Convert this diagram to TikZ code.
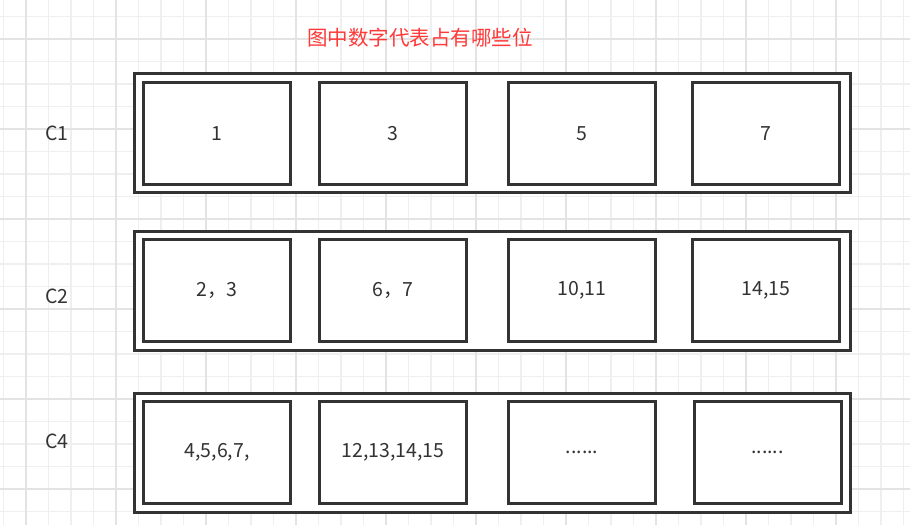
\documentclass[tikz,border=0pt]{standalone}
\usepackage{fontspec}
\setmainfont{Noto Sans CJK SC}
\usetikzlibrary{positioning}
\definecolor{Ink}{HTML}{333333}
\definecolor{Alert}{HTML}{FF3838}
\definecolor{GridLine}{HTML}{EFEFEF}
\definecolor{GridBold}{HTML}{E3E3E3}

\begin{document}
\begin{tikzpicture}[x=1pt,y=-1pt,
    cell/.style={draw=Ink,line width=3pt,fill=white,text=Ink,minimum width=147pt,minimum height=102pt,inner sep=0pt,font=\fontsize{19.5}{22}\selectfont},
    rowframe/.style={draw=Ink,line width=3pt,fill=white,minimum width=716pt,minimum height=119pt,inner sep=0pt},
    rowlabel/.style={font=\fontsize{19.5}{22}\selectfont,text=Ink}]
    \useasboundingbox (0,0) rectangle (910,525);
    \fill[white] (0,0) rectangle (910,525);
    % background grid
    \foreach \k in {0,...,40}
      \draw[GridLine,line width=1.2pt] (3.5+22.5*\k,0)--(3.5+22.5*\k,525);
    \foreach \k in {0,...,23}
      \draw[GridLine,line width=1.2pt] (0,16.5+22.5*\k)--(910,16.5+22.5*\k);
    \foreach \k in {1,5,9,13,17,21,25,29,33,37}
      \draw[GridBold,line width=1.2pt] (3.5+22.5*\k,0)--(3.5+22.5*\k,525);
    \foreach \k in {1,5,9,13,17,21}
      \draw[GridBold,line width=1.2pt] (0,16.5+22.5*\k)--(910,16.5+22.5*\k);

    \node[text=Alert,font=\fontsize{20.5}{23}\selectfont] (title) at (420,38) {图中数字代表占有哪些位};

    % row C1
    \node[rowframe] (row1) at (492.5,133) {};
    \node[cell] (a1) at (217,133.5) {1};
    \node[cell] (a2) at (393,133.5) {3};
    \node[cell] (a3) at (582,133.5) {5};
    \node[cell] (a4) at (766,133.5) {7};
    \node[rowlabel] (c1) at (57,133) {C1};

    % row C2
    \node[rowframe] (row2) at (492.5,291) {};
    \node[cell] (b1) at (217,290.5) {2，3};
    \node[cell] (b2) at (393,290.5) {6，7};
    \node[cell] (b3) at (582,290.5) {10,11};
    \node[cell] (b4) at (766,290.5) {14,15};
    \node[rowlabel] (c2) at (57,296) {C2};

    % row C4
    \node[rowframe] (row3) at (492.5,453) {};
    \node[cell] (d1) at (217,452.5) {4,5,6,7,};
    \node[cell] (d2) at (393,452.5) {12,13,14,15};
    \node[cell] (d3) at (582,452.5) {......};
    \node[cell] (d4) at (767.5,452.5) {......};
    \node[rowlabel] (c4) at (57,441) {C4};
  \end{tikzpicture}
\end{document}
